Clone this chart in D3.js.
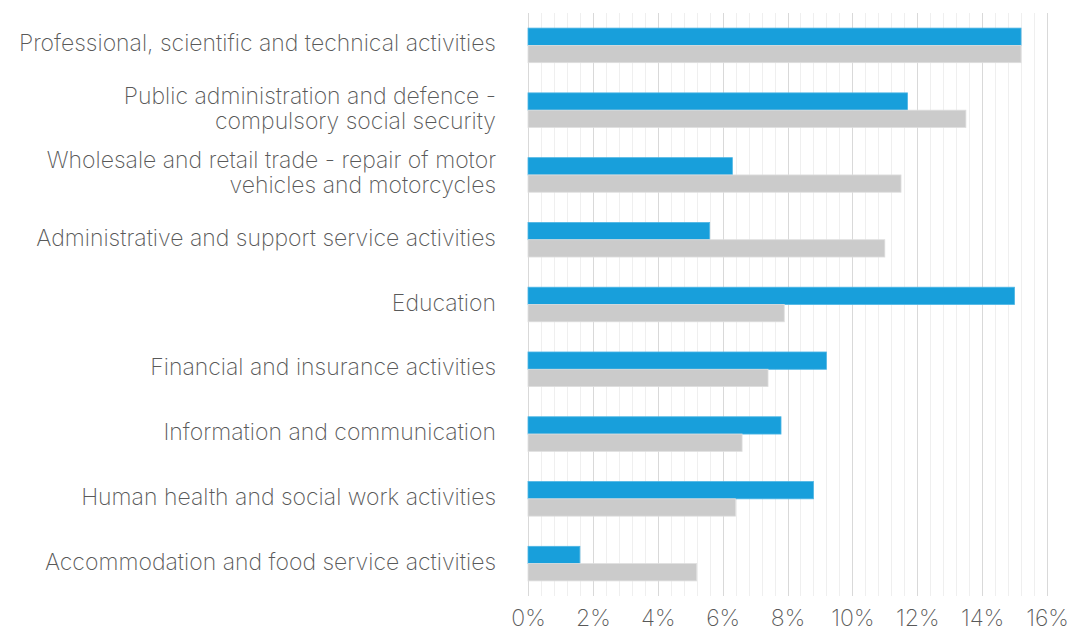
<!DOCTYPE html>
<html>
<head>
<meta charset="utf-8">
<script src="https://cdn.jsdelivr.net/npm/d3@7"></script>
<style>
  html, body { margin: 0; padding: 0; background: #ffffff; }
  svg { display: block; }
  text { font-family: "Inter", "Lato", "Roboto", sans-serif; font-weight: 250; fill: #595959; }
</style>
</head>
<body>
<svg id="chart" width="1083" height="631"></svg>
<script>
// Sectors, top to bottom ("\n" marks a line break in the label)
const categories = [
  "Professional, scientific and technical activities",
  "Public administration and defence -\ncompulsory social security",
  "Wholesale and retail trade - repair of motor\nvehicles and motorcycles",
  "Administrative and support service activities",
  "Education",
  "Financial and insurance activities",
  "Information and communication",
  "Human health and social work activities",
  "Accommodation and food service activities"
];

// Shares in percent
const blueSeries = [15.2, 11.7, 6.3, 5.6, 15.0, 9.2, 7.8, 8.8, 1.6];
const greySeries = [15.2, 13.5, 11.5, 11.0, 7.9, 7.4, 6.6, 6.4, 5.2];

// Axis ticks
const majorTicks = [0, 2, 4, 6, 8, 10, 12, 14, 16];
const tickLabels = ["0%", "2%", "4%", "6%", "8%", "10%", "12%", "14%", "16%"];

const svg = d3.select("#chart");
const fontSize = 23;

const plot = { left: 528, right: 1047, top: 13, bottom: 596 };

const x = d3.scaleLinear().domain([0, 16]).range([plot.left, plot.right]);
const y = d3.scaleBand().domain(categories).range([plot.top, plot.bottom]).padding(0);

const barH = y.bandwidth() * 0.267;

// Minor gridlines every 0.4%
const minorTicks = d3.range(0, 41).map(i => +(i * 0.4).toFixed(1)).filter(v => !majorTicks.includes(v));
svg.append("g").selectAll("line").data(minorTicks).join("line")
  .attr("x1", d => Math.round(x(d)) + 0.5).attr("x2", d => Math.round(x(d)) + 0.5)
  .attr("y1", plot.top).attr("y2", plot.bottom)
  .attr("stroke", "#efefef").attr("stroke-width", 1);

// Major gridlines every 2%
svg.append("g").selectAll("line").data(majorTicks).join("line")
  .attr("x1", d => Math.round(x(d)) + 0.5).attr("x2", d => Math.round(x(d)) + 0.5)
  .attr("y1", plot.top).attr("y2", plot.bottom)
  .attr("stroke", "#d9d9d9").attr("stroke-width", 1);

// Bars
const rows = categories.map((c, i) => ({ c, blue: blueSeries[i], grey: greySeries[i] }));
const bars = svg.append("g");
bars.selectAll("rect.blue").data(rows).join("rect")
  .attr("class", "blue")
  .attr("x", x(0))
  .attr("y", d => y(d.c) + y.bandwidth() / 2 - barH)
  .attr("width", d => x(d.blue) - x(0))
  .attr("height", barH)
  .attr("fill", "#189fdb")
  .attr("stroke", "#4fb6e4").attr("stroke-width", 0.8);
bars.selectAll("rect.grey").data(rows).join("rect")
  .attr("class", "grey")
  .attr("x", x(0))
  .attr("y", d => y(d.c) + y.bandwidth() / 2)
  .attr("width", d => x(d.grey) - x(0))
  .attr("height", barH)
  .attr("fill", "#cbcbcb")
  .attr("stroke", "#dedede").attr("stroke-width", 0.8);

// Category labels
const lineGap = 25;
const labels = svg.append("g").attr("font-size", fontSize).attr("text-anchor", "end");
labels.selectAll("text").data(categories).join("text")
  .attr("x", 496)
  .each(function(d) {
    const lines = d.split("\n");
    const t = d3.select(this);
    const cy = y(d) + y.bandwidth() / 2 - 2;
    lines.forEach((ln, k) => {
      t.append("tspan")
        .attr("x", 496)
        .attr("y", cy + (k - (lines.length - 1) / 2) * lineGap)
        .attr("dy", "0.35em")
        .text(ln);
    });
  });

// Bottom axis labels
const axis = d3.axisBottom(x)
  .tickValues(majorTicks)
  .tickFormat((d, i) => tickLabels[i])
  .tickSize(0)
  .tickPadding(14);
const gx = svg.append("g").attr("transform", `translate(0,${plot.bottom})`).call(axis);
gx.select(".domain").remove();
gx.selectAll("text")
  .attr("font-size", fontSize)
  .attr("font-family", "Inter, Lato, Roboto, sans-serif")
  .attr("font-weight", 250)
  .attr("fill", "#595959");
</script>
</body>
</html>
